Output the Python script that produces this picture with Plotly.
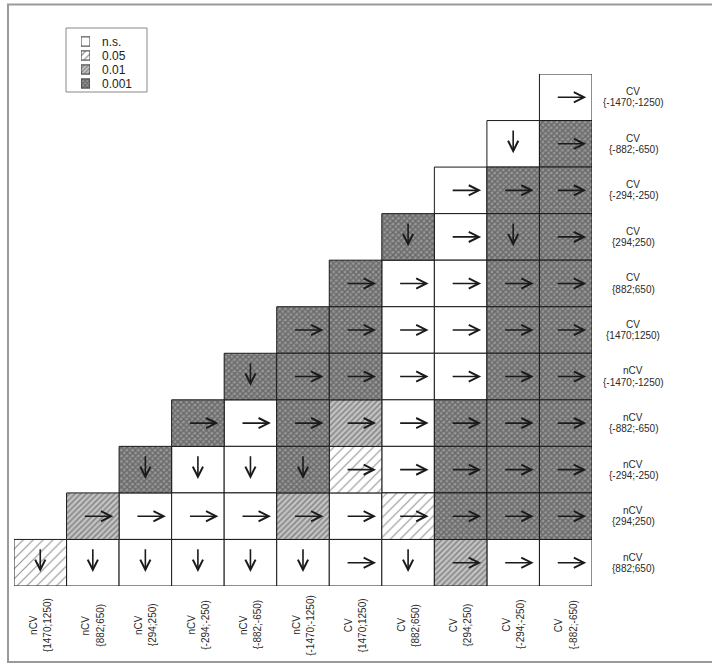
import copy
import plotly.graph_objects as go

# ---------------- data ----------------
col_groups = ["nCV", "nCV", "nCV", "nCV", "nCV", "nCV", "CV", "CV", "CV", "CV", "CV"]
col_ranges = ["{1470;1250)", "{882;650)", "{294;250)", "{-294;-250)", "{-882;-650)",
              "{-1470;-1250)", "{1470;1250)", "{882;650)", "{294;250)", "{-294;-250)",
              "{-882;-650)"]

# rows listed top to bottom
row_groups = ["CV", "CV", "CV", "CV", "CV", "CV", "nCV", "nCV", "nCV", "nCV", "nCV"]
row_ranges = ["{-1470;-1250)", "{-882;-650)", "{-294;-250)", "{294;250)", "{882;650)",
              "{1470;1250)", "{-1470;-1250)", "{-882;-650)", "{-294;-250)", "{294;250)",
              "{882;650)"]

# significance of each cell in a row (from its first cell to the last column)
sig_rows = [
    ["ns"],
    ["ns", "0.001"],
    ["ns", "0.001", "0.001"],
    ["0.001", "ns", "0.001", "0.001"],
    ["0.001", "ns", "ns", "0.001", "0.001"],
    ["0.001", "0.001", "ns", "ns", "0.001", "0.001"],
    ["0.001", "0.001", "0.001", "ns", "ns", "0.001", "0.001"],
    ["0.001", "ns", "0.001", "0.01", "ns", "0.001", "0.001", "0.001"],
    ["0.001", "ns", "ns", "0.001", "0.05", "ns", "0.001", "0.001", "0.001"],
    ["0.01", "ns", "ns", "ns", "0.01", "ns", "0.05", "0.001", "0.001", "0.001"],
    ["0.05", "ns", "ns", "ns", "ns", "ns", "ns", "ns", "0.01", "ns", "ns"],
]
# arrow direction of each cell: r = right, d = down
dir_rows = [
    ["r"],
    ["d", "r"],
    ["r", "r", "r"],
    ["d", "r", "d", "r"],
    ["r", "r", "r", "r", "r"],
    ["r", "r", "r", "r", "r", "r"],
    ["d", "r", "r", "r", "r", "r", "r"],
    ["r", "r", "r", "r", "r", "r", "r", "r"],
    ["d", "d", "d", "d", "r", "r", "r", "r", "r"],
    ["r", "r", "r", "r", "r", "r", "r", "r", "r", "r"],
    ["d", "d", "d", "d", "d", "d", "r", "d", "r", "r", "r"],
]

levels = ["ns", "0.05", "0.01", "0.001"]
level_labels = ["n.s.", "0.05", "0.01", "0.001"]

# ---------------- styles ----------------
W, H = 712, 666
FONT = "Liberation Sans, Arial, Helvetica, sans-serif"
styles = {
    "ns": dict(color="white", pattern=dict(shape="")),
    "0.05": dict(color="white", pattern=dict(shape="/", size=7, solidity=0.16,
                                             fgcolor="#2a2a2a", bgcolor="white", fillmode="overlay")),
    "0.01": dict(color="#c4c4c4", pattern=dict(shape="/", size=4, solidity=0.4,
                                               fgcolor="#4a4a4a", bgcolor="#c4c4c4", fillmode="overlay")),
    "0.001": dict(color="#979797", pattern=dict(shape="x", size=4, solidity=0.6,
                                                fgcolor="#3a3a3a", bgcolor="#979797", fillmode="overlay")),
}

n_rows = len(row_ranges)
n_cols = len(col_ranges)

GX0, GX1, GY0, GY1 = 14, 592, 74, 586

fig = go.Figure()

cells = {lv: dict(x=[], base=[]) for lv in levels}
arrows = []
for i in range(n_rows):
    r = n_rows - 1 - i
    start = n_cols - len(sig_rows[i])
    for k, (s, d) in enumerate(zip(sig_rows[i], dir_rows[i])):
        c = start + k
        cells[s]["x"].append(c)
        cells[s]["base"].append(r - 0.5)
        arrows.append((c, r, d))

for lv in levels:
    st = styles[lv]
    fig.add_trace(go.Bar(
        x=cells[lv]["x"], y=[1] * len(cells[lv]["x"]), base=cells[lv]["base"],
        width=1, xaxis="x", yaxis="y",
        marker=dict(color=st["color"], pattern=st["pattern"],
                    line=dict(color="#1a1a1a", width=1)),
        hoverinfo="skip", showlegend=False))

annotations = []
for c, r, d in arrows:
    if d == "r":
        x, y, ax, ay = c + 0.39, r, c - 0.18, r
    else:
        x, y, ax, ay = c, r - 0.2, c, r + 0.32
    annotations.append(dict(x=x, y=y, ax=ax, ay=ay, xref="x", yref="y",
                            axref="x", ayref="y", text="", showarrow=True,
                            arrowhead=5, arrowsize=1.25, arrowwidth=1.6,
                            arrowcolor="#1a1a1a"))

lab_font = dict(family=FONT, size=10, color="#2a2a2a")
# row labels (right)
row_lab_x = 633 / W
for i in range(n_rows):
    r = n_rows - 1 - i
    annotations.append(dict(x=row_lab_x, y=r + 0.12, xref="paper", yref="y",
                            xanchor="center", yanchor="middle",
                            text=row_groups[i], showarrow=False, font=lab_font))
    annotations.append(dict(x=row_lab_x, y=r - 0.12, xref="paper", yref="y",
                            xanchor="center", yanchor="middle",
                            text=row_ranges[i], showarrow=False, font=lab_font))

# column labels (bottom, rotated)
col_lab_y = (H - 625) / H
for c in range(n_cols):
    annotations.append(dict(x=c - 0.14, y=col_lab_y, xref="x", yref="paper",
                            xanchor="center", yanchor="middle",
                            text=col_groups[c], textangle=-90, showarrow=False,
                            font=lab_font))
    annotations.append(dict(x=c + 0.13, y=col_lab_y, xref="x", yref="paper",
                            xanchor="center", yanchor="middle",
                            text=col_ranges[c], textangle=-90, showarrow=False,
                            font=lab_font))

# legend swatches on their own small axes
leg_pattern = {"0.05": dict(size=5, solidity=0.25),
               "0.01": dict(size=3, solidity=0.4),
               "0.001": dict(size=3, solidity=0.6)}
for j, lv in enumerate(levels):
    st = copy.deepcopy(styles[lv])
    if lv in leg_pattern:
        st["pattern"].update(leg_pattern[lv])
    fig.add_trace(go.Bar(
        x=[0], y=[0.66], base=[j - 0.33], width=1, xaxis="x2", yaxis="y2",
        marker=dict(color=st["color"], pattern=st["pattern"],
                    line=dict(color="#333333", width=1)),
        hoverinfo="skip", showlegend=False))
    annotations.append(dict(x=101 / W, y=j, xref="paper", yref="y2", text=level_labels[j],
                            xanchor="left", yanchor="middle", borderpad=0, showarrow=False,
                            font=dict(family=FONT, size=12, color="#222")))

x_dom = [GX0 / W, GX1 / W]
y_dom = [(H - GY1) / H, (H - GY0) / H]
leg_top, leg_bot = 34.5, 90.5   # 4 rows of 14 px

axis_off = dict(showgrid=False, zeroline=False, showticklabels=False, ticks="",
                showline=False, fixedrange=True)

fig.update_layout(
    width=W, height=H,
    margin=dict(l=0, r=0, t=0, b=0),
    paper_bgcolor="white", plot_bgcolor="rgba(0,0,0,0)",
    barmode="overlay", showlegend=False,
    xaxis=dict(domain=x_dom, range=[-0.5, n_cols - 0.5], **axis_off),
    yaxis=dict(domain=y_dom, range=[-0.5, n_rows - 0.5], **axis_off),
    xaxis2=dict(domain=[81 / W, 90 / W], range=[-0.5, 0.5], anchor="y2", **axis_off),
    yaxis2=dict(domain=[(H - leg_bot) / H, (H - leg_top) / H], range=[3.5, -0.5],
                anchor="x2", **axis_off),
    annotations=annotations,
    shapes=[
        dict(type="rect", xref="paper", yref="paper", x0=8 / W, x1=1.02,
             y0=(H - 662) / H, y1=(H - 4.5) / H, line=dict(color="#9a9a9a", width=2),
             fillcolor="rgba(0,0,0,0)", layer="below"),
        dict(type="rect", xref="paper", yref="paper", x0=66 / W, x1=147 / W,
             y0=(H - 92) / H, y1=(H - 28) / H, line=dict(color="#888888", width=1),
             fillcolor="rgba(0,0,0,0)"),
    ],
)

fig.write_html("out.html", config={"displayModeBar": False},
               post_script="document.body.style.margin='0';")
